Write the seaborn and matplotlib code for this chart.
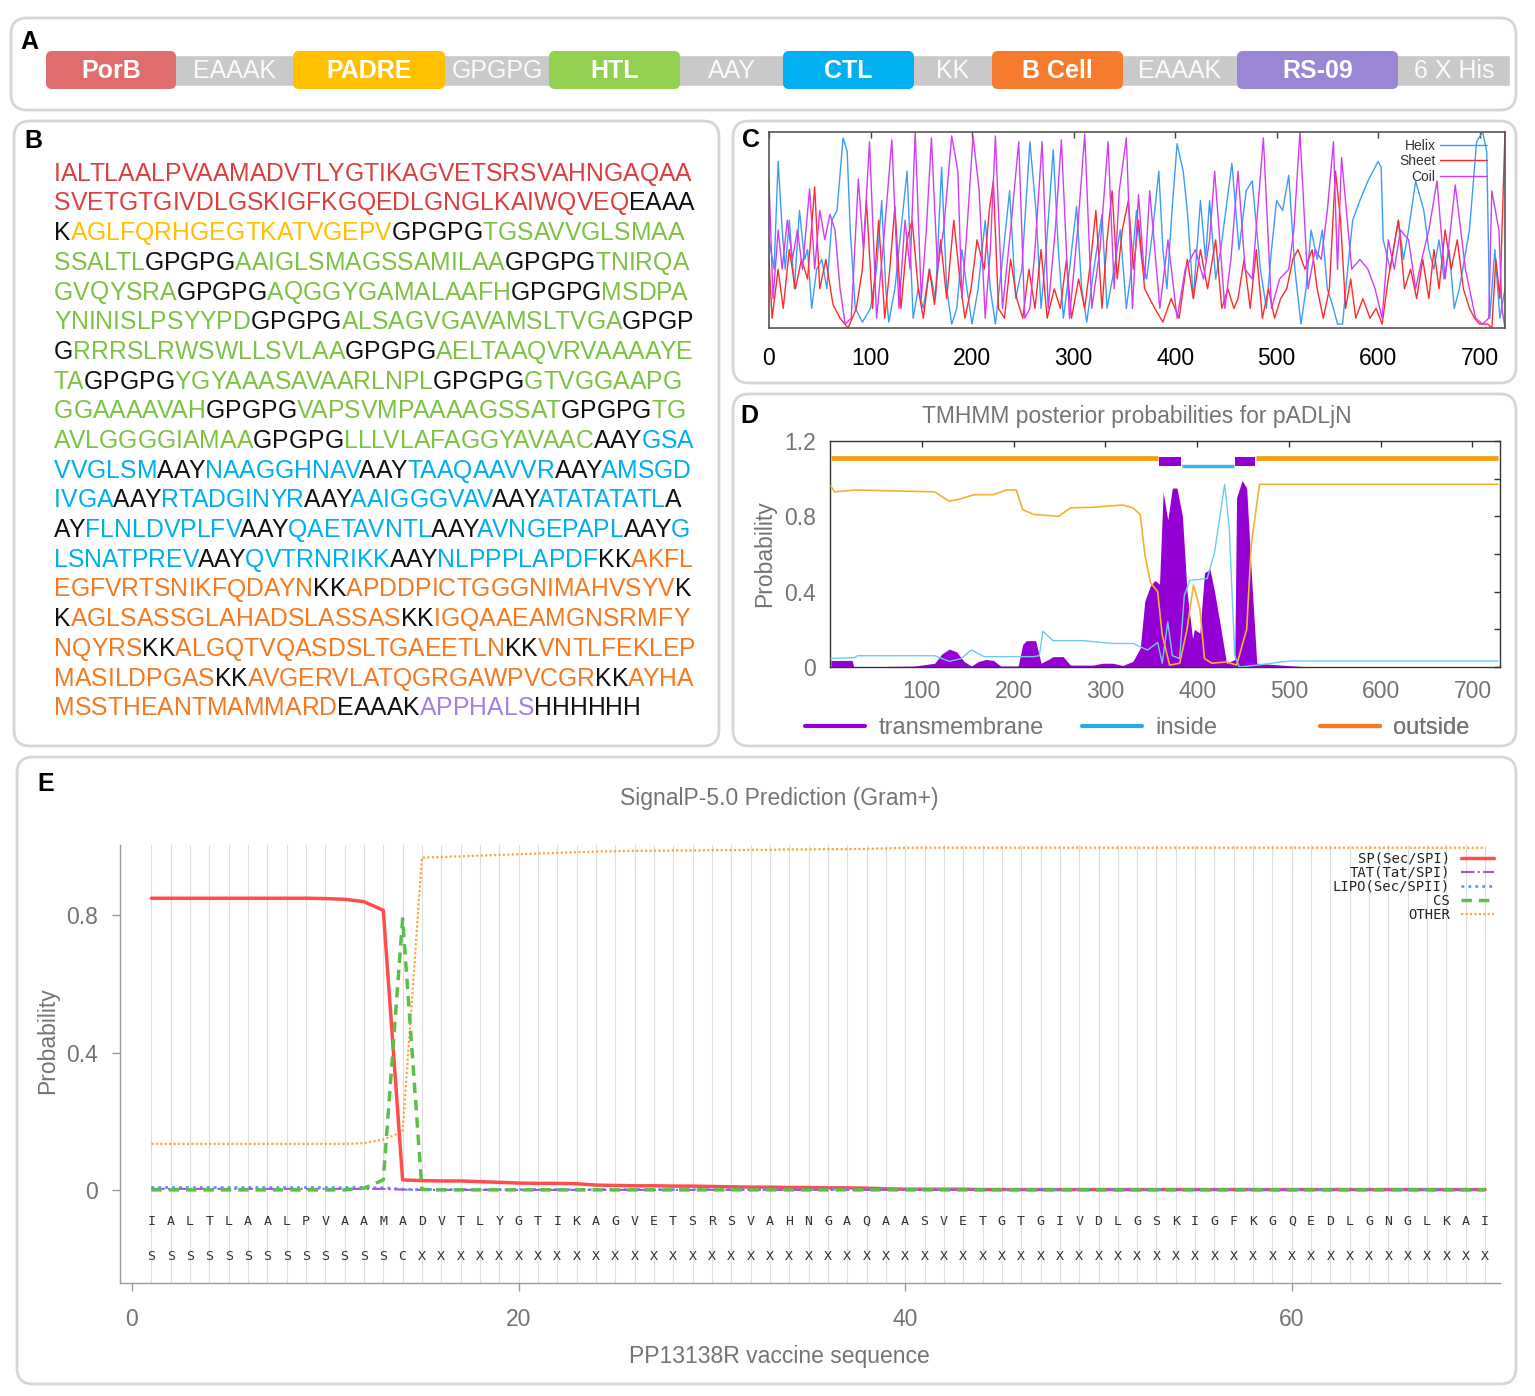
import numpy as np
import pandas as pd
import matplotlib
matplotlib.use("Agg")
import matplotlib.pyplot as plt
import seaborn as sns
from matplotlib.patches import FancyBboxPatch
from matplotlib.lines import Line2D
from matplotlib.ticker import FixedLocator
from matplotlib.font_manager import findfont, FontProperties
from matplotlib.ft2font import FT2Font

# ======================= DATA =======================
# ---- Panel A: construct map ----
a_labels = ["PorB", "EAAAK", "PADRE", "GPGPG", "HTL", "AAY", "CTL", "KK",
            "B Cell", "EAAAK", "RS-09", "6 X His"]
a_kinds = ["PorB", "linker", "PADRE", "linker", "HTL", "linker", "CTL", "linker",
           "B Cell", "linker", "RS-09", "linker"]
a_widths = [132, 115, 154, 102, 133, 101, 133, 76, 133, 112, 163, 111]

# ---- Panel B: vaccine sequence components ----
porb_seq = "IALTLAALPVAAMADVTLYGTIKAGVETSRSVAHNGAQAASVETGTGIVDLGSKIGFKGQEDLGNGLKAIWQVEQ"
padre_seq = "AGLFQRHGEGTKATVGEPV"
htl_epitopes = ["TGSAVVGLSMAASSALTL", "AAIGLSMAGSSAMILAA", "TNIRQAGVQYSRA",
                "AQGGYGAMALAAFH", "MSDPAYNINISLPSYYPD", "ALSAGVGAVAMSLTVGA",
                "RRRSLRWSWLLSVLAA", "AELTAAQVRVAAAAYETA", "YGYAAASAVAARLNPL",
                "GTVGGAAPGGGAAAAVAH", "VAPSVMPAAAAGSSAT", "TGAVLGGGGIAMAA",
                "LLLVLAFAGGYAVAAC"]
ctl_epitopes = ["GSAVVGLSM", "NAAGGHNAV", "TAAQAAVVR", "AMSGDIVGA", "RTADGINYR",
                "AAIGGGVAV", "ATATATATL", "FLNLDVPLFV", "QAETAVNTL", "AVNGEPAPL",
                "GLSNATPREV", "QVTRNRIKK", "NLPPPLAPDF"]
bcell_epitopes = ["AKFLEGFVRTSNIKFQDAYN", "APDDPICTGGGNIMAHVSYV", "AGLSASSGLAHADSLASSAS",
                  "IGQAAEAMGNSRMFYNQYRS", "ALGQTVQASDSLTGAEETLN", "VNTLFEKLEPMASILDPGAS",
                  "AVGERVLATQGRGAWPVCGR", "AYHAMSSTHEANTMAMMARD"]
rs09_seq = "APPHALS"
his_tag = "HHHHHH"
b_line_lengths = [40, 39, 37, 39, 36, 39, 38, 37, 37, 39, 38, 41, 40, 40, 39, 38, 39, 38, 34]

# ---- Panel C: secondary structure probabilities (key points) ----
helix_pos = [0, 5, 9, 13, 16, 20, 25, 30, 35, 38, 42, 47, 52, 57, 62, 67, 73, 77, 80, 85,
             92, 100, 106, 111, 115, 118, 124, 128, 136, 142, 147, 152, 158, 164, 170, 175,
             180, 185, 190, 195, 200, 206, 213, 218, 223, 230, 237, 243, 249, 257, 263, 268,
             273, 280, 285, 290, 296, 303, 308, 313, 320, 328, 333, 340, 346, 352, 357, 362,
             367, 372, 378, 384, 388, 392, 397, 402, 408, 412, 418, 425, 430, 434, 440, 445,
             450, 456, 463, 470, 476, 484, 490, 495, 500, 506, 512, 518, 524, 529, 534, 540,
             545, 550, 556, 560, 565, 570, 575, 582, 590, 600, 603, 605, 612, 620, 625, 630,
             637, 645, 650, 655, 660, 665, 670, 675, 680, 685, 690, 697, 703, 707, 710, 715,
             720, 725]
helix_val = [0.45, 0.30, 0.85, 0.50, 0.30, 0.55, 0.20, 0.60, 0.35, 0.40, 0.10, 0.30, 0.35, 0.20,
             0.55, 0.60, 0.97, 0.90, 0.50, 0.10, 0.03, 0.10, 0.30, 0.65, 0.20, 0.03, 0.20, 0.40,
             0.80, 0.05, 0.20, 0.10, 0.30, 0.15, 0.82, 0.20, 0.02, 0.10, 0.40, 0.20, 0.02, 0.20,
             0.55, 0.20, 0.02, 0.35, 0.70, 0.15, 0.30, 0.95, 0.60, 0.10, 0.40, 0.91, 0.40, 0.05,
             0.30, 0.62, 0.20, 0.03, 0.30, 0.58, 0.10, 0.30, 0.50, 0.10, 0.30, 0.60, 0.35, 0.25,
             0.50, 0.80, 0.40, 0.20, 0.60, 0.94, 0.80, 0.60, 0.15, 0.65, 0.35, 0.65, 0.25, 0.40,
             0.60, 0.84, 0.40, 0.70, 0.75, 0.30, 0.10, 0.40, 0.65, 0.60, 0.78, 0.30, 0.02, 0.20,
             0.50, 0.35, 0.50, 0.20, 0.10, 0.02, 0.02, 0.30, 0.55, 0.65, 0.75, 0.85, 0.82, 0.45,
             0.30, 0.55, 0.35, 0.50, 0.75, 0.60, 0.40, 0.30, 0.45, 0.25, 0.40, 0.10, 0.20, 0.35,
             0.50, 0.95, 1.00, 0.90, 0.05, 0.40, 0.05, 0.20]
sheet_pos = [0, 3, 9, 14, 20, 26, 32, 38, 45, 50, 56, 63, 70, 78, 86, 92, 96, 102, 108, 114,
             119, 124, 130, 136, 141, 147, 152, 158, 163, 169, 175, 182, 188, 193, 199, 205,
             212, 217, 221, 226, 232, 238, 244, 250, 256, 262, 268, 274, 281, 287, 293, 298,
             305, 311, 317, 322, 328, 333, 338, 343, 348, 354, 359, 364, 370, 380, 388, 396,
             404, 412, 418, 425, 432, 440, 446, 452, 458, 462, 468, 474, 480, 486, 492, 498,
             504, 510, 516, 521, 528, 535, 540, 546, 552, 558, 563, 568, 573, 578, 585, 592,
             598, 604, 610, 615, 620, 626, 632, 638, 644, 650, 655, 660, 666, 672, 678, 684,
             690, 695, 700, 708, 712, 716, 720, 725]
sheet_val = [0.35, 0.05, 0.30, 0.10, 0.40, 0.20, 0.35, 0.25, 0.72, 0.20, 0.35, 0.12, 0.05, 0.00,
             0.10, 0.30, 0.65, 0.10, 0.55, 0.05, 0.30, 0.62, 0.10, 0.45, 0.55, 0.20, 0.05, 0.30,
             0.12, 0.45, 0.15, 0.55, 0.25, 0.05, 0.20, 0.45, 0.30, 0.60, 0.75, 0.10, 0.05, 0.35,
             0.15, 0.05, 0.30, 0.10, 0.40, 0.05, 0.20, 0.10, 0.35, 0.05, 0.25, 0.10, 0.35, 0.60,
             0.10, 0.45, 0.70, 0.25, 0.50, 0.65, 0.30, 0.55, 0.20, 0.10, 0.03, 0.15, 0.05, 0.35,
             0.15, 0.40, 0.20, 0.45, 0.10, 0.20, 0.10, 0.15, 0.35, 0.10, 0.40, 0.05, 0.20, 0.05,
             0.15, 0.20, 0.35, 0.40, 0.30, 0.40, 0.20, 0.05, 0.20, 0.80, 0.55, 0.10, 0.25, 0.05,
             0.15, 0.05, 0.10, 0.02, 0.25, 0.40, 0.55, 0.20, 0.30, 0.15, 0.35, 0.15, 0.40, 0.20,
             0.50, 0.30, 0.45, 0.20, 0.10, 0.05, 0.02, 0.02, 0.00, 0.35, 0.15, 1.00]
coil_pos = [0, 4, 9, 13, 18, 23, 28, 33, 40, 45, 50, 55, 60, 65, 70, 75, 81, 88, 93, 99, 106,
            113, 121, 128, 134, 139, 144, 150, 155, 160, 166, 172, 180, 186, 190, 195, 201,
            207, 213, 218, 223, 230, 238, 246, 252, 257, 262, 269, 275, 282, 288, 296, 304,
            311, 318, 326, 334, 340, 345, 352, 358, 364, 370, 375, 385, 393, 402, 410, 420,
            428, 434, 439, 449, 455, 462, 469, 476, 487, 495, 503, 512, 517, 523, 531, 538,
            544, 550, 556, 560, 564, 574, 582, 590, 597, 604, 610, 616, 622, 630, 637, 643,
            650, 658, 666, 676, 686, 696, 703, 709, 712, 719, 722, 725]
coil_val = [0.75, 0.15, 0.50, 0.30, 0.55, 0.35, 0.50, 0.30, 0.71, 0.30, 0.60, 0.45, 0.58, 0.50,
            0.20, 0.02, 0.05, 0.76, 0.40, 0.95, 0.05, 0.45, 0.96, 0.10, 0.55, 0.30, 1.00, 0.15,
            0.50, 0.97, 0.30, 0.50, 0.98, 0.80, 0.15, 0.50, 0.98, 0.70, 0.05, 0.40, 0.98, 0.10,
            0.50, 0.95, 0.05, 0.10, 0.40, 0.95, 0.10, 0.50, 0.96, 0.05, 0.50, 0.99, 0.10, 0.40,
            0.95, 0.20, 0.70, 0.97, 0.10, 0.68, 0.25, 0.70, 0.10, 0.45, 0.05, 0.30, 0.40, 0.25,
            0.45, 0.80, 0.10, 0.35, 0.80, 0.30, 0.25, 0.97, 0.10, 0.25, 0.30, 0.50, 1.00, 0.20,
            0.40, 0.35, 0.60, 0.95, 0.30, 0.87, 0.30, 0.35, 0.30, 0.20, 0.05, 0.45, 0.30, 0.50,
            0.45, 0.20, 0.35, 0.50, 0.75, 0.25, 0.73, 0.30, 0.05, 0.02, 0.05, 0.70, 0.50, 0.10,
            0.00]

# ---- Panel D: TMHMM posterior probabilities ----
tm_pos = [1, 3, 24, 26, 92, 114, 122, 130, 138, 146, 154, 162, 170, 178, 186, 205, 210, 214,
          224, 230, 238, 243, 254, 262, 286, 297, 308, 319, 330, 338, 343, 349, 354, 359, 363,
          368, 373, 378, 384, 389, 395, 397, 403, 408, 414, 419, 426, 432, 441, 443, 449, 454,
          459, 465, 492, 514, 520, 728]
tm_val = [0.035, 0.035, 0.035, 0.0, 0.005, 0.02, 0.07, 0.095, 0.08, 0.03, 0.005, 0.03, 0.04,
          0.035, 0.005, 0.005, 0.12, 0.14, 0.14, 0.02, 0.04, 0.055, 0.055, 0.01, 0.01, 0.02,
          0.02, 0.008, 0.03, 0.10, 0.35, 0.43, 0.46, 0.44, 0.93, 0.78, 0.95, 0.95, 0.80, 0.40,
          0.15, 0.20, 0.18, 0.50, 0.52, 0.40, 0.20, 0.02, 0.04, 0.90, 0.99, 0.95, 0.50, 0.02,
          0.01, 0.003, 0.0, 0.0]
in_pos = [1, 27, 30, 114, 130, 143, 154, 168, 222, 228, 232, 243, 276, 308, 330, 346, 357,
          362, 368, 373, 381, 386, 392, 411, 419, 430, 435, 441, 446, 465, 492, 503, 728]
in_val = [0.045, 0.05, 0.06, 0.06, 0.03, 0.045, 0.09, 0.055, 0.055, 0.06, 0.19, 0.14, 0.14,
          0.125, 0.125, 0.09, 0.13, 0.02, 0.24, 0.06, 0.045, 0.38, 0.46, 0.47, 0.61, 0.97, 0.74,
          0.06, 0.0, 0.01, 0.027, 0.032, 0.032]
out_pos = [1, 5, 27, 114, 130, 140, 157, 178, 192, 203, 210, 222, 249, 262, 286, 319, 330,
           338, 343, 349, 357, 362, 370, 381, 389, 396, 403, 408, 416, 432, 443, 454, 459, 468,
           492, 728]
out_val = [0.96, 0.93, 0.94, 0.93, 0.88, 0.89, 0.915, 0.915, 0.94, 0.94, 0.835, 0.81, 0.80,
           0.845, 0.848, 0.86, 0.845, 0.81, 0.60, 0.45, 0.40, 0.17, 0.01, 0.02, 0.20, 0.435,
           0.31, 0.045, 0.02, 0.027, 0.01, 0.20, 0.65, 0.97, 0.97, 0.97]
topo_start = [1, 358, 383, 441, 464]
topo_end = [357, 382, 440, 463, 728]
topo_kind = ["outside", "TM", "inside", "TM", "outside"]

# ---- Panel E: SignalP-5.0 ----
e_residues = "IALTLAALPVAAMADVTLYGTIKAGVETSRSVAHNGAQAASVETGTGIVDLGSKIGFKGQEDLGNGLKAI"
e_labels = "SSSSSSSSSSSSSCXXXXXXXXXXXXXXXXXXXXXXXXXXXXXXXXXXXXXXXXXXXXXXXXXXXXXXXX"
e_sp = [0.850, 0.850, 0.850, 0.850, 0.850, 0.850, 0.850, 0.850, 0.850, 0.849,
        0.847, 0.840, 0.815, 0.030, 0.028, 0.027, 0.027, 0.025, 0.023, 0.021,
        0.020, 0.020, 0.019, 0.015, 0.014, 0.013, 0.013, 0.012, 0.012, 0.011,
        0.010, 0.009, 0.009, 0.008, 0.008, 0.007, 0.007, 0.006, 0.004, 0.003,
        0.003, 0.003, 0.003, 0.002, 0.002, 0.002, 0.002, 0.002, 0.002, 0.002,
        0.002, 0.002, 0.002, 0.002, 0.002, 0.002, 0.002, 0.002, 0.002, 0.002,
        0.002, 0.002, 0.002, 0.002, 0.002, 0.002, 0.002, 0.002, 0.002, 0.002]
e_tat = [0.004, 0.004, 0.004, 0.004, 0.004, 0.004, 0.004, 0.004, 0.004, 0.004,
         0.004, 0.004, 0.004, 0.002, 0.001, 0.001, 0.001, 0.001, 0.001, 0.001,
         0.001, 0.001, 0.001, 0.001, 0.001, 0.001, 0.001, 0.001, 0.001, 0.001,
         0.001, 0.001, 0.001, 0.001, 0.001, 0.001, 0.001, 0.001, 0.001, 0.001,
         0.001, 0.001, 0.001, 0.001, 0.001, 0.001, 0.001, 0.001, 0.001, 0.001,
         0.001, 0.001, 0.001, 0.001, 0.001, 0.001, 0.001, 0.001, 0.001, 0.001,
         0.001, 0.001, 0.001, 0.001, 0.001, 0.001, 0.001, 0.001, 0.001, 0.001]
e_lipo = [0.008, 0.008, 0.008, 0.008, 0.008, 0.008, 0.008, 0.008, 0.008, 0.008,
          0.008, 0.008, 0.007, 0.003, 0.002, 0.002, 0.002, 0.002, 0.002, 0.002,
          0.002, 0.002, 0.002, 0.002, 0.002, 0.002, 0.002, 0.002, 0.002, 0.002,
          0.002, 0.002, 0.002, 0.002, 0.002, 0.002, 0.002, 0.002, 0.002, 0.002,
          0.002, 0.002, 0.002, 0.002, 0.002, 0.002, 0.002, 0.002, 0.002, 0.002,
          0.002, 0.002, 0.002, 0.002, 0.002, 0.002, 0.002, 0.002, 0.002, 0.002,
          0.002, 0.002, 0.002, 0.002, 0.002, 0.002, 0.002, 0.002, 0.002, 0.002]
e_cs = [0.001, 0.001, 0.001, 0.001, 0.001, 0.001, 0.001, 0.001, 0.001, 0.001,
        0.001, 0.006, 0.030, 0.790, 0.002, 0.001, 0.001, 0.001, 0.001, 0.001,
        0.001, 0.001, 0.001, 0.001, 0.001, 0.001, 0.001, 0.001, 0.001, 0.001,
        0.001, 0.001, 0.001, 0.001, 0.001, 0.001, 0.001, 0.001, 0.001, 0.001,
        0.001, 0.001, 0.001, 0.001, 0.001, 0.001, 0.001, 0.001, 0.001, 0.001,
        0.001, 0.001, 0.001, 0.001, 0.001, 0.001, 0.001, 0.001, 0.001, 0.001,
        0.001, 0.001, 0.001, 0.001, 0.001, 0.001, 0.001, 0.001, 0.001, 0.001]
e_other = [0.135, 0.135, 0.135, 0.135, 0.135, 0.135, 0.135, 0.135, 0.135, 0.135,
           0.135, 0.137, 0.148, 0.170, 0.968, 0.970, 0.972, 0.974, 0.976, 0.978,
           0.980, 0.982, 0.984, 0.986, 0.987, 0.988, 0.988, 0.989, 0.989, 0.990,
           0.990, 0.991, 0.991, 0.992, 0.992, 0.993, 0.993, 0.994, 0.995, 0.997,
           0.997, 0.997, 0.997, 0.997, 0.997, 0.997, 0.997, 0.997, 0.997, 0.997,
           0.997, 0.997, 0.997, 0.997, 0.997, 0.997, 0.997, 0.997, 0.997, 0.997,
           0.997, 0.997, 0.997, 0.997, 0.997, 0.997, 0.997, 0.997, 0.997, 0.997]

# ======================= STYLE =======================
sns.set_theme(style="white")
plt.rcParams['font.family'] = ['Liberation Sans', 'DejaVu Sans']
plt.rcParams['axes.unicode_minus'] = False

W, H = 1535, 1396
DPI = 100
fig = plt.figure(figsize=(W / DPI, H / DPI), dpi=DPI)


def px_axes(x0, y0, x1, y1):
    return fig.add_axes([x0 / W, 1 - y1 / H, (x1 - x0) / W, (y1 - y0) / H])


GRAY_TXT = '#747474'

# background canvas with panel frames
bg = px_axes(0, 0, W, H)
bg.set_xlim(0, W)
bg.set_ylim(H, 0)
bg.axis('off')
frames = {'A': (11, 18, 1516, 110), 'B': (14, 121, 719, 746), 'C': (733, 121, 1516, 383),
          'D': (733, 394, 1516, 746), 'E': (17, 757, 1516, 1384)}
for k, (x0, y0, x1, y1) in frames.items():
    bg.add_patch(FancyBboxPatch((x0, y0), x1 - x0, y1 - y0,
                                boxstyle="round,pad=0,rounding_size=16",
                                fc='white', ec='#d6d6d6', lw=2))
letter_pos = {'A': (29, 42), 'B': (33, 141), 'C': (751, 140), 'D': (749, 416), 'E': (46, 784)}
for k, (x, y) in letter_pos.items():
    bg.text(x, y, k, fontsize=18, fontweight='bold', ha='center', va='center', color='black')

# ---------------- Panel A ----------------
a_colors = {"PorB": "#e06d6d", "PADRE": "#ffc000", "HTL": "#92d050", "CTL": "#00b0f0",
            "B Cell": "#f47c2c", "RS-09": "#9b86d6", "linker": "#c9c9c9"}
axA = px_axes(45, 45, 1510, 95)
total_a = sum(a_widths)
axA.set_xlim(0, total_a)
axA.set_ylim(0, 50)
axA.axis('off')
axA.patch.set_alpha(0)
starts = np.concatenate([[0], np.cumsum(a_widths)[:-1]])
axA.barh(y=24.5, width=total_a, left=0, height=31, color=a_colors["linker"], zorder=1)
for lab, kind, s, w in zip(a_labels, a_kinds, starts, a_widths):
    if kind != "linker":
        axA.add_patch(FancyBboxPatch((s + 1, 6), w - 2, 38,
                                     boxstyle="round,pad=0,rounding_size=6",
                                     fc=a_colors[kind], ec='none', zorder=2))
        axA.text(s + w / 2, 24, lab, color='white', fontweight='bold', fontsize=18,
                 ha='center', va='center', zorder=3)
    else:
        axA.text(s + w / 2, 23.5, lab, color='#fbfbfb', fontsize=18,
                 ha='center', va='center', zorder=3)

# ---------------- Panel B ----------------
b_colors = {'PorB': '#d9403f', 'PADRE': '#ffc000', 'HTL': '#7dc242', 'CTL': '#00aeef',
            'B': '#f47920', 'RS': '#a67fe4', 'link': '#111111'}
segments = [(porb_seq, 'PorB'), ('EAAAK', 'link'), (padre_seq, 'PADRE'), ('GPGPG', 'link')]
for i, e in enumerate(htl_epitopes):
    segments.append((e, 'HTL'))
    segments.append(('GPGPG' if i < len(htl_epitopes) - 1 else 'AAY', 'link'))
for i, e in enumerate(ctl_epitopes):
    segments.append((e, 'CTL'))
    segments.append(('AAY' if i < len(ctl_epitopes) - 1 else 'KK', 'link'))
for i, e in enumerate(bcell_epitopes):
    segments.append((e, 'B'))
    segments.append(('KK' if i < len(bcell_epitopes) - 1 else 'EAAAK', 'link'))
segments.append((rs09_seq, 'RS'))
segments.append((his_tag, 'link'))

chars, cols = [], []
for seg, kind in segments:
    chars.extend(seg)
    cols.extend([b_colors[kind]] * len(seg))

B_SIZE = 17.8
ft = FT2Font(findfont(FontProperties(family='Liberation Sans')))
ft.set_size(B_SIZE, DPI)
try:
    from matplotlib.ft2font import Kerning
    KMODE = Kerning.UNFITTED
except Exception:
    KMODE = 2
adv_cache = {}
kern_cache = {}


def advance(c):
    if c not in adv_cache:
        g = ft.load_char(ord(c))
        adv_cache[c] = g.linearHoriAdvance / 65536.0
    return adv_cache[c]


def kern(a, b):
    key = a + b
    if key not in kern_cache:
        try:
            kern_cache[key] = ft.get_kerning(ft.get_char_index(ord(a)),
                                             ft.get_char_index(ord(b)), KMODE) / 64.0
        except Exception:
            kern_cache[key] = 0.0
    return kern_cache[key]


idx = 0
for li, n in enumerate(b_line_lengths):
    y = 172 + li * 29.7 + 8.7
    x = 54.0
    for j in range(idx, idx + n):
        if j > idx:
            x += kern(chars[j - 1], chars[j])
        bg.text(x, y, chars[j], color=cols[j], fontsize=B_SIZE, ha='left', va='baseline')
        x += advance(chars[j])
    idx += n

# ---------------- Panel C ----------------
axC = px_axes(769, 132, 1505, 328)
c_series = [("Helix", helix_pos, helix_val, '#3a9ef5'),
            ("Sheet", sheet_pos, sheet_val, '#ff2b2b'),
            ("Coil", coil_pos, coil_val, '#d13cf5')]
for name, p, v, c in c_series:
    sns.lineplot(x=p, y=v, ax=axC, color=c, lw=1.0, label=name, estimator=None)
axC.set_xlim(0, 725)
axC.set_ylim(0, 1.0)
axC.set_xticks(range(0, 701, 100))
axC.set_yticks([])
axC.tick_params(axis='x', direction='in', top=True, length=4, width=1, color='#444',
                labelsize=16.5, labelcolor='black', pad=14)
for sp in axC.spines.values():
    sp.set_color('#555')
    sp.set_linewidth(1.2)
axC.set_xlabel('')
axC.set_ylabel('')
axC.legend(loc='upper right', bbox_to_anchor=(0.985, 1.0), markerfirst=False, frameon=False,
           fontsize=10, handlelength=3.4, labelspacing=0.1, borderaxespad=0.1,
           handletextpad=0.3, labelcolor='#333')

# ---------------- Panel D ----------------
axD = px_axes(830, 441, 1500, 667)
axD.fill_between(tm_pos, tm_val, 0, color='#9400d3', lw=0, zorder=2)
sns.lineplot(x=in_pos, y=in_val, ax=axD, color='#6ccbf0', lw=1.0, estimator=None, zorder=3)
sns.lineplot(x=out_pos, y=out_val, ax=axD, color='#f0b232', lw=1.2, estimator=None, zorder=3)
for s, e, k in zip(topo_start, topo_end, topo_kind):
    if k == "outside":
        axD.hlines(1.11, s, e, color='#eea21b', lw=3.5, zorder=4)
    elif k == "inside":
        axD.hlines(1.068, s, e, color='#3cb4ef', lw=2.5, zorder=4)
    else:
        axD.fill_between([s, e], 1.067, 1.116, color='#9400d3', lw=0, zorder=5)
axD.set_xlim(0, 730)
axD.set_ylim(0, 1.2)
axD.set_xticks(range(100, 701, 100))
axD.set_yticks([0, 0.4, 0.8, 1.2])
axD.set_yticklabels(['0', '0.4', '0.8', '1.2'])
axD.yaxis.set_minor_locator(FixedLocator([0.2, 0.6, 1.0]))
axD.tick_params(axis='both', which='both', direction='in', top=True, right=True,
                length=4, width=1, color='#333', labelsize=16.5, labelcolor=GRAY_TXT)
axD.tick_params(axis='x', pad=9)
axD.tick_params(axis='y', pad=10)
for sp in axD.spines.values():
    sp.set_color('#333')
    sp.set_linewidth(1)
axD.set_ylabel('Probability', fontsize=16.5, color=GRAY_TXT, labelpad=6)
axD.set_xlabel('')
axD.set_title('TMHMM posterior probabilities for pADLjN', fontsize=16.5, color=GRAY_TXT,
              pad=13, x=0.458)
d_entries = [('transmembrane', '#9400d3', (805 - 830) / 670),
             ('inside', '#29abe2', (1082 - 830) / 670),
             ('outside', '#f47b20', (1320 - 830) / 670)]
for lab, col, xa in d_entries:
    leg = axD.legend([Line2D([], [], color=col, lw=3)], [lab], loc='center left',
                     bbox_to_anchor=(xa, (667 - 728) / 226), frameon=False, fontsize=17,
                     labelcolor=GRAY_TXT, handlelength=2.55, handletextpad=0.55,
                     borderpad=0, borderaxespad=0)
    axD.add_artist(leg)

# ---------------- Panel E ----------------
axE = px_axes(120, 845, 1500, 1283)
e_pos = np.arange(1, len(e_residues) + 1)
for p in e_pos:
    axE.axvline(p, color='#dedede', lw=0.8, zorder=0)
sns.lineplot(x=e_pos, y=e_other, ax=axE, color='#ffa640', lw=1.6, ls=(0, (1, 1)),
             label='OTHER', zorder=2)
sns.lineplot(x=e_pos, y=e_sp, ax=axE, color='#ff4d4d', lw=2.5, label='SP(Sec/SPI)', zorder=3)
sns.lineplot(x=e_pos, y=e_lipo, ax=axE, color='#4f9fff', lw=2.0, ls=(0, (1, 1.5)),
             label='LIPO(Sec/SPII)', zorder=3)
sns.lineplot(x=e_pos, y=e_tat, ax=axE, color='#b04fd8', lw=1.5, ls='-.',
             label='TAT(Tat/SPI)', zorder=3)
sns.lineplot(x=e_pos, y=e_cs, ax=axE, color='#5cbf4a', lw=2.5, ls=(0, (3, 2)),
             label='CS', zorder=4)
for p, aa, lab in zip(e_pos, e_residues, e_labels):
    axE.text(p, -0.091, aa, ha='center', va='center', fontsize=9.5, color='#333',
             family='DejaVu Sans Mono')
    axE.text(p, -0.193, lab, ha='center', va='center', fontsize=9.5, color='#333',
             family='DejaVu Sans Mono')
axE.set_xlim(-0.62, 70.77)
axE.set_ylim(-0.27, 1.005)
axE.set_xticks([0, 20, 40, 60])
axE.xaxis.set_minor_locator(FixedLocator([10, 30, 50, 70]))
axE.set_yticks([0, 0.4, 0.8])
axE.set_yticklabels(['0', '0.4', '0.8'])
axE.yaxis.set_minor_locator(FixedLocator([-0.2, 0.2, 0.6, 1.0]))
axE.tick_params(axis='both', which='both', direction='out', length=6, width=1,
                color='#999', labelsize=16.5, labelcolor=GRAY_TXT)
axE.tick_params(axis='x', pad=12)
axE.tick_params(axis='y', pad=10, left=True)
axE.tick_params(axis='x', bottom=True)
for side in ['top', 'right']:
    axE.spines[side].set_visible(False)
for side in ['left', 'bottom']:
    axE.spines[side].set_color('#999')
    axE.spines[side].set_linewidth(1)
axE.set_xlabel('PP13138R vaccine sequence', fontsize=16.5, color=GRAY_TXT, labelpad=10,
               x=0.4775)
axE.set_ylabel('Probability', fontsize=16.5, color=GRAY_TXT, labelpad=5, y=0.553)
axE.set_title('SignalP-5.0 Prediction (Gram+)', fontsize=16.5, color=GRAY_TXT, pad=29,
              x=0.4775)
hs, ls_ = axE.get_legend_handles_labels()
order = ['SP(Sec/SPI)', 'TAT(Tat/SPI)', 'LIPO(Sec/SPII)', 'CS', 'OTHER']
hmap = dict(zip(ls_, hs))
axE.legend([hmap[o] for o in order], order, loc='upper right', bbox_to_anchor=(1.0, 0.997),
           markerfirst=False, frameon=False, prop={'family': 'DejaVu Sans Mono', 'size': 10},
           handlelength=2.4, labelspacing=0.0, borderaxespad=0.0, handletextpad=0.8,
           labelcolor='#222')

fig.savefig('out.png', dpi=DPI)
